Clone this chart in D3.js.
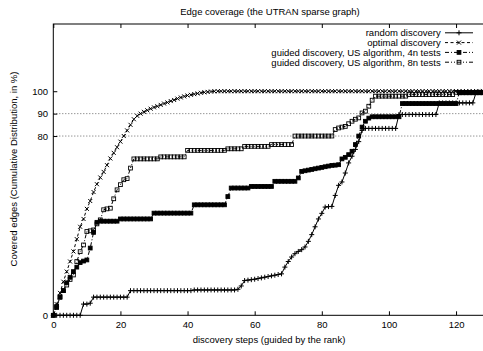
<!DOCTYPE html>
<html>
<head>
<meta charset="utf-8">
<script src="https://cdn.jsdelivr.net/npm/d3@7"></script>
<style>
  body { margin: 0; background: #fff; }
  svg { display: block; font-family: "Liberation Sans", Arial, sans-serif; }
</style>
</head>
<body>
<svg id="chart" width="483" height="351"></svg>
<script>
// discovery step index (0..128)
const steps = d3.range(0, 129);

const randomDiscovery = [
    0, 0, 0, 0, 0, 0, 0, 0, 0, 5.0,
    5.0, 5.4, 8.1, 8.1, 8.1, 8.1, 8.1, 8.1, 8.1, 8.1,
    8.1, 8.1, 8.1, 11.0, 11.0, 11.0, 11.0, 11.0, 11.0, 11.0,
    11.0, 11.0, 11.0, 11.0, 11.0, 11.0, 11.0, 11.0, 11.0, 11.0,
    11.0, 11.0, 11.3, 11.3, 11.3, 11.3, 11.3, 11.3, 11.3, 11.3,
    11.3, 11.3, 11.3, 11.3, 11.3, 11.6, 13.1, 15.5, 15.7, 15.9,
    16.1, 16.4, 16.7, 17.0, 17.3, 17.6, 17.9, 18.2, 18.5, 21.5,
    24.0, 26.0, 27.5, 28.5, 29.3, 30.5, 33.0, 36.0, 39.5, 43.0,
    45.5, 48.3, 48.5, 48.6, 53.5, 58.0, 59.5, 63.5, 68.0, 71.0,
    74.0, 77.5, 82.5, 83.4, 83.4, 83.4, 83.4, 83.4, 83.4, 83.4,
    83.4, 83.4, 83.4, 89.6, 89.6, 89.6, 89.6, 89.6, 89.6, 89.6,
    89.6, 89.6, 89.6, 89.6, 89.6, 94.8, 94.8, 94.8, 94.8, 94.8,
    94.8, 94.8, 94.8, 94.8, 94.8, 94.8, 99.5, 99.5, 99.5
];

const optimalDiscovery = [
    0, 5, 10, 15, 19.5, 24, 28.5, 34, 39.5, 43,
    47.5, 51, 55, 58.5, 61.5, 64, 67, 70, 72.5, 75,
    77.5, 80, 82.5, 85, 87.5, 89, 90, 90.8, 91.5, 92.2,
    92.8, 93.3, 93.9, 94.5, 95, 95.6, 96.1, 96.7, 97.2, 97.7,
    98.1, 98.4, 98.7, 99, 99.3, 99.5, 99.7, 99.85, 99.95, 100,
    100, 100, 100, 100, 100, 100, 100, 100, 100, 100,
    100, 100, 100, 100, 100, 100, 100, 100, 100, 100,
    100, 100, 100, 100, 100, 100, 100, 100, 100, 100,
    100, 100, 100, 100, 100, 100, 100, 100, 100, 100,
    100, 100, 100, 100, 100, 100, 100, 100, 100, 100,
    100, 100, 100, 100, 100, 100, 100, 100, 100, 100,
    100, 100, 100, 100, 100, 100, 100, 100, 100, 100,
    100, 100, 100, 100, 100, 100, 100, 100, 100
];

const guided4n = [
    0, 3.5, 8, 11, 14.5, 17, 19.5, 21.5, 23.5, 24.2,
    24.7, 30, 37, 41.5, 42, 42, 42, 42, 42, 42,
    43, 43, 43, 43, 43, 43, 43, 43, 43, 43,
    45.6, 45.6, 45.6, 45.6, 45.6, 45.6, 45.6, 45.6, 45.6, 45.6,
    45.6, 45.6, 49.3, 49.3, 49.3, 49.3, 49.3, 49.3, 49.3, 49.3,
    49.3, 49.3, 53, 56.8, 56.8, 56.8, 56.8, 56.8, 56.8, 57.5,
    57.5, 57.5, 57.5, 57.5, 57.5, 57.5, 59.8, 59.8, 59.8, 59.8,
    59.8, 59.8, 59.8, 61.3, 64.2, 64.5, 64.8, 65.1, 65.4, 65.7,
    66, 66.3, 66.6, 66.9, 67, 67.2, 69.8, 70.5, 71.7, 73.2,
    76.2, 80, 84, 86.6, 88, 88.6, 88.6, 88.6, 88.6, 88.6,
    88.6, 88.6, 88.6, 88.6, 94.5, 94.5, 94.5, 94.5, 94.5, 94.5,
    94.5, 94.5, 94.5, 94.5, 94.5, 94.5, 94.5, 94.5, 94.5, 94.5,
    94.5, 99.3, 99.3, 99.3, 99.3, 99.3, 99.3, 99.3, 99.3
];

const guided8n = [
    0, 4, 8.3, 11, 13.5, 16, 18, 24, 28.4, 31.4,
    37.4, 37.7, 38.1, 40.8, 42.6, 47.1, 47.5, 47.8, 52, 56,
    58.3, 60.5, 61, 65.7, 69.8, 69.8, 69.8, 69.8, 69.8, 69.8,
    69.8, 69.8, 70.7, 70.7, 70.7, 70.7, 70.7, 70.7, 70.7, 70.7,
    73.6, 73.6, 73.6, 73.6, 73.6, 73.6, 73.6, 73.6, 73.6, 73.6,
    73.6, 73.6, 74.3, 74.3, 74.3, 74.3, 74.3, 75.4, 75.4, 75.4,
    75.4, 75.4, 75.4, 75.4, 75.4, 76.2, 76.2, 76.2, 76.2, 76.2,
    76.2, 76.2, 80, 80, 80, 80, 80, 80, 80, 80,
    80, 80, 80, 80, 82.9, 83.6, 84, 84.3, 85.5, 86.6,
    87.5, 88.1, 90.3, 91.1, 93.3, 96, 97.8, 97.8, 97.8, 97.8,
    97.8, 97.8, 97.8, 97.8, 97.8, 97.8, 98.5, 98.5, 98.5, 98.5,
    98.5, 98.5, 98.5, 98.5, 98.5, 98.5, 98.5, 98.5, 98.5, 98.5,
    99.5, 99.5, 99.5, 99.5, 99.5, 99.5, 99.5, 99.5, 99.5
];

const seriesNames = [
    "random discovery",
    "optimal discovery",
    "guided discovery, US algorithm, 4n tests",
    "guided discovery, US algorithm, 8n tests"
];
const xTicks = [0, 20, 40, 60, 80, 100, 120];
const yTicks = [0, 80, 90, 100];
const gridTicks = [80, 90];

const series = [randomDiscovery, optimalDiscovery, guided4n, guided8n]
    .map((values, i) => ({name: seriesNames[i], values: values}));

// line and point styles, same order as the series
const dashes = [null, "3,2.5", "4,2,1,2", "4,2,1,2,1,2"];
const markers = ["plus", "cross", "box", "openbox"];

const fontSize = 9.5;
const svg = d3.select("#chart");
const x = d3.scaleLinear().domain([0, 128]).range([53.3, 482.9]);
const y = d3.scaleLinear().domain([0, 130]).range([315.3, 24]);

function drawMarker(g, type, cx, cy) {
    if (type === "plus") {
        g.append("path")
            .attr("d", `M${cx - 2.5},${cy}H${cx + 2.5}M${cx},${cy - 2.5}V${cy + 2.5}`)
            .attr("stroke", "#000").attr("stroke-width", 1);
    } else if (type === "cross") {
        g.append("path")
            .attr("d", `M${cx - 2},${cy - 2}L${cx + 2},${cy + 2}M${cx - 2},${cy + 2}L${cx + 2},${cy - 2}`)
            .attr("stroke", "#000").attr("stroke-width", 1);
    } else {
        g.append("rect")
            .attr("x", cx - 1.9).attr("y", cy - 1.9)
            .attr("width", 3.8).attr("height", 3.8)
            .attr("fill", type === "box" ? "#000" : "none")
            .attr("stroke", "#000").attr("stroke-width", 0.9);
    }
}

// grid at 80 and 90
svg.append("g").selectAll("line")
    .data(gridTicks)
    .join("line")
    .attr("x1", x(0)).attr("x2", 483)
    .attr("y1", d => y(d)).attr("y2", d => y(d))
    .attr("stroke", "#444")
    .attr("stroke-width", 0.8)
    .attr("stroke-dasharray", "1,2");

// axes
const xAxis = svg.append("g")
    .attr("transform", `translate(0,${y(0)})`)
    .call(d3.axisBottom(x).tickValues(xTicks).tickSizeInner(-4).tickSizeOuter(0).tickPadding(6.3));
const xAxisTop = svg.append("g")
    .attr("transform", `translate(0,${y(130)})`)
    .call(d3.axisTop(x).tickValues(xTicks).tickSizeInner(-4).tickSizeOuter(0).tickFormat(""));
const yAxis = svg.append("g")
    .attr("transform", `translate(${x(0)},0)`)
    .call(d3.axisLeft(y).tickValues(yTicks).tickSizeInner(-4).tickSizeOuter(0).tickPadding(5.3));

[xAxis, xAxisTop, yAxis].forEach((g) => {
    g.select(".domain").remove();
    g.attr("font-family", null).attr("font-size", fontSize);
    g.selectAll("line").attr("stroke", "#000");
    g.selectAll("text").attr("fill", "#000");
});

// frame (right edge falls outside the picture)
svg.append("rect")
    .attr("x", x(0)).attr("y", y(130))
    .attr("width", 500).attr("height", y(0) - y(130))
    .attr("fill", "none")
    .attr("stroke", "#000")
    .attr("stroke-width", 1);

// series lines and points
const line = d3.line()
    .x((d, i) => x(steps[i]))
    .y((d) => y(d));

series.forEach((s, k) => {
    const g = svg.append("g").attr("class", "series");
    g.append("path")
        .attr("d", line(s.values))
        .attr("fill", "none")
        .attr("stroke", "#000")
        .attr("stroke-width", 1)
        .attr("stroke-dasharray", dashes[k]);
    s.values.forEach((v, i) => drawMarker(g, markers[k], x(steps[i]), y(v)));
});

// legend
const legendY = [36.1, 45.9, 55.7, 65.5];
series.forEach((s, k) => {
    const g = svg.append("g").attr("class", "legend");
    g.append("text")
        .attr("x", 440.7).attr("y", legendY[k])
        .attr("text-anchor", "end")
        .attr("font-size", fontSize)
        .text(s.name);
    const ly = legendY[k] - 3.3;
    g.append("line")
        .attr("x1", 445).attr("x2", 473)
        .attr("y1", ly).attr("y2", ly)
        .attr("stroke", "#000")
        .attr("stroke-width", 1)
        .attr("stroke-dasharray", dashes[k]);
    drawMarker(g, markers[k], 459, ly);
});

// titles
svg.append("text")
    .attr("x", 270).attr("y", 15)
    .attr("text-anchor", "middle")
    .attr("font-size", fontSize)
    .text("Edge coverage (the UTRAN sparse graph)");

svg.append("text")
    .attr("x", 269).attr("y", 342.5)
    .attr("text-anchor", "middle")
    .attr("font-size", fontSize)
    .text("discovery steps (guided by the rank)");

svg.append("text")
    .attr("transform", "translate(17,169) rotate(-90)")
    .attr("text-anchor", "middle")
    .attr("font-size", fontSize)
    .text("Covered edges (Cumulative Distribution, in %)");
</script>
</body>
</html>
